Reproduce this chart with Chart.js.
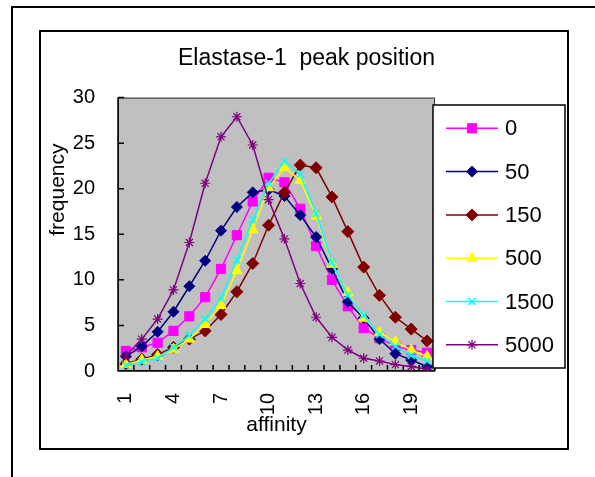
<!DOCTYPE html>
<html>
<head>
<meta charset="utf-8">
<title>Elastase-1 peak position</title>
<script src="https://cdn.jsdelivr.net/npm/chart.js@4.4.0/dist/chart.umd.min.js"></script>
<style>
  html, body { margin: 0; padding: 0; background: #fff; }
  body { width: 595px; height: 477px; position: relative; overflow: hidden; }
  #frame { position: absolute; left: 11px; top: 6px; width: 600px; height: 480px; border-top: 2px solid #000; border-left: 2px solid #000; }
  #box { position: absolute; left: 39px; top: 30px; width: 530px; height: 420px; box-sizing: border-box; border: 2px solid #000; }
  #myChart { position: absolute; left: 0; top: 0; }
</style>
</head>
<body>
<div id="frame"></div>
<div id="box"></div>
<canvas id="myChart" width="595" height="477"></canvas>
<script>
// categories (affinity)
var affinity = [1, 2, 3, 4, 5, 6, 7, 8, 9, 10, 11, 12, 13, 14, 15, 16, 17, 18, 19, 20];
var seriesNames = ['0', '50', '150', '500', '1500', '5000'];

// frequency per series
var s0    = [2.2, 2.6, 3.1, 4.4, 6.0, 8.1, 11.2, 14.9, 18.6, 21.2, 20.7, 17.8, 13.7, 10.0, 7.1, 4.7, 3.6, 2.7, 2.3, 2.0];
var s50   = [1.6, 2.7, 4.3, 6.5, 9.3, 12.1, 15.4, 18.0, 19.6, 19.9, 19.2, 17.1, 14.7, 11.2, 7.6, 5.8, 3.5, 1.9, 1.2, 0.5];
var s150  = [0.8, 1.3, 1.8, 2.6, 3.5, 4.4, 6.2, 8.7, 11.8, 16.0, 19.6, 22.6, 22.3, 19.1, 15.3, 11.4, 8.3, 5.9, 4.6, 3.3];
var s500  = [0.7, 1.2, 1.6, 2.4, 3.5, 5.1, 7.2, 11.0, 15.5, 20.1, 22.3, 20.9, 17.0, 11.7, 8.6, 5.8, 4.2, 3.2, 2.3, 1.6];
var s1500 = [0.6, 1.0, 1.4, 2.6, 3.9, 5.7, 8.0, 12.2, 16.6, 20.6, 23.0, 21.6, 17.3, 11.9, 8.3, 6.1, 4.0, 2.7, 1.7, 1.1];
var s5000 = [1.7, 3.5, 5.7, 8.9, 14.1, 20.6, 25.7, 27.9, 24.8, 18.8, 14.5, 9.6, 5.9, 3.7, 2.3, 1.4, 1.1, 0.7, 0.5, 0.2];

// y axis ticks
var yTicks = [0, 5, 10, 15, 20, 25, 30];

var FONT = '"Liberation Sans", Arial, sans-serif';

function series(i, data, color, style, radius, bw) {
  return {
    label: seriesNames[i],
    data: data,
    borderColor: color,
    backgroundColor: color,
    borderWidth: 1.5,
    pointStyle: style,
    pointRadius: radius,
    pointHoverRadius: radius,
    pointBackgroundColor: color,
    pointBorderColor: color,
    pointBorderWidth: bw,
    tension: 0,
    fill: false,
    order: 5 - i
  };
}

// grey plot area
var plotBg = {
  id: 'plotBg',
  beforeDraw: function (chart) {
    var a = chart.chartArea, ctx = chart.ctx;
    ctx.save();
    ctx.fillStyle = '#c0c0c0';
    ctx.fillRect(a.left, a.top, a.right - a.left, a.bottom - a.top);
    ctx.restore();
  }
};

// plot frame and inside tick marks
var axesFrame = {
  id: 'axesFrame',
  beforeDatasetsDraw: function (chart) {
    var a = chart.chartArea, ctx = chart.ctx;
    var x = chart.scales.x, y = chart.scales.y;
    ctx.save();
    ctx.strokeStyle = '#333';
    ctx.lineWidth = 1;
    ctx.strokeRect(a.left + 0.5, a.top + 0.5, a.right - a.left - 1, a.bottom - a.top - 1);
    ctx.strokeStyle = '#000';
    ctx.lineWidth = 1.5;
    ctx.beginPath();
    ctx.moveTo(a.left, a.top);
    ctx.lineTo(a.left, a.bottom);
    ctx.lineTo(a.right, a.bottom);
    y.ticks.forEach(function (t) {
      var py = y.getPixelForValue(t.value);
      ctx.moveTo(a.left, py);
      ctx.lineTo(a.left + 6, py);
    });
    for (var i = 0; i <= affinity.length; i++) {
      var px = x.getPixelForValue(i - 0.5);
      ctx.moveTo(px, a.bottom);
      ctx.lineTo(px, a.bottom - 6);
    }
    ctx.stroke();
    ctx.restore();
  }
};

// legend box on the right, and the y axis title
var boxLegend = {
  id: 'boxLegend',
  afterDraw: function (chart) {
    var a = chart.chartArea, ctx = chart.ctx;
    var left = a.right - 2, top = 105, w = 132, h = 263;
    ctx.save();
    ctx.fillStyle = '#fff';
    ctx.fillRect(left, top, w, h);
    ctx.strokeStyle = '#000';
    ctx.lineWidth = 1.5;
    ctx.strokeRect(left, top, w, h);
    chart.data.datasets.forEach(function (ds, i) {
      var ry = top + 23.3 + i * 43.3;
      ctx.strokeStyle = ds.borderColor;
      ctx.lineWidth = ds.borderWidth;
      ctx.beginPath();
      ctx.moveTo(left + 13, ry);
      ctx.lineTo(left + 65, ry);
      ctx.stroke();
      ctx.fillStyle = ds.pointBackgroundColor;
      ctx.strokeStyle = ds.pointBorderColor;
      ctx.lineWidth = ds.pointBorderWidth;
      Chart.helpers.drawPoint(ctx, {
        pointStyle: ds.pointStyle,
        radius: ds.pointRadius,
        rotation: 0,
        borderWidth: ds.pointBorderWidth
      }, left + 39, ry);
      ctx.fillStyle = '#000';
      ctx.font = '22px ' + FONT;
      ctx.textAlign = 'left';
      ctx.textBaseline = 'middle';
      ctx.fillText(ds.label, left + 72, ry + 1);
    });

    ctx.translate(58, a.top + 92);
    ctx.rotate(-Math.PI / 2);
    ctx.fillStyle = '#000';
    ctx.font = '21px ' + FONT;
    ctx.textAlign = 'center';
    ctx.textBaseline = 'middle';
    ctx.fillText('frequency', 0, 0);
    ctx.restore();
  }
};

var ctx = document.getElementById('myChart').getContext('2d');
var chart = new Chart(ctx, {
  type: 'line',
  data: {
    labels: affinity,
    datasets: [
      series(0, s0, '#ff00ff', 'rect', 6.5, 1),
      series(1, s50, '#000080', 'rectRot', 5.5, 1),
      series(2, s150, '#800000', 'rectRot', 6, 1),
      series(3, s500, '#ffff00', 'triangle', 6, 1),
      series(4, s1500, '#00ffff', 'crossRot', 5, 1.5),
      series(5, s5000, '#800080', 'star', 5, 1.2)
    ]
  },
  options: {
    responsive: false,
    animation: false,
    layout: { padding: { top: 30, left: 0, right: 160, bottom: 26 } },
    plugins: {
      legend: { display: false },
      tooltip: { enabled: false },
      title: {
        display: true,
        align: 'end',
        text: 'Elastase-1  peak position',
        color: '#000',
        font: { family: FONT, size: 23, weight: 'normal' },
        padding: { top: 15, bottom: 25 }
      }
    },
    scales: {
      x: {
        type: 'category',
        offset: true,
        grid: { display: false, drawTicks: false },
        border: { display: false },
        ticks: {
          autoSkip: false,
          minRotation: 90,
          maxRotation: 90,
          padding: 22,
          color: '#000',
          font: { family: FONT, size: 20 },
          callback: function (value, index) {
            return index % 3 === 0 ? this.getLabelForValue(value) : '';
          }
        },
        title: {
          display: true,
          text: 'affinity',
          color: '#000',
          font: { family: FONT, size: 21 },
          padding: { top: 0, bottom: 13 }
        },
        afterFit: function (s) { s.height = 80; }
      },
      y: {
        min: yTicks[0],
        max: yTicks[yTicks.length - 1],
        grid: { display: false, drawTicks: false },
        border: { display: false },
        afterBuildTicks: function (s) {
          s.ticks = yTicks.map(function (v) { return { value: v }; });
        },
        ticks: {
          padding: 23,
          color: '#000',
          font: { family: FONT, size: 20 }
        },
        afterFit: function (s) { s.width = 118; }
      }
    }
  },
  plugins: [plotBg, axesFrame, boxLegend]
});
</script>
</body>
</html>
